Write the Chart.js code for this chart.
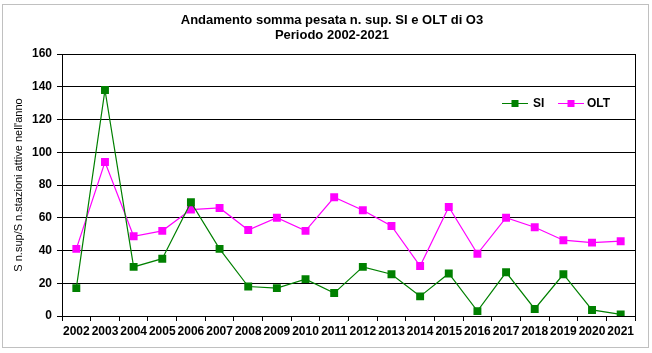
<!DOCTYPE html>
<html>
<head>
<meta charset="utf-8">
<script src="https://cdn.jsdelivr.net/npm/chart.js@4/dist/chart.umd.min.js"></script>
<style>
  html, body { margin: 0; padding: 0; background: #fff; }
  #wrap { width: 652px; height: 353px; position: relative; }
</style>
</head>
<body>
<div id="wrap"><canvas id="chart"></canvas></div>
<script>
const years = ["2002","2003","2004","2005","2006","2007","2008","2009","2010","2011",
               "2012","2013","2014","2015","2016","2017","2018","2019","2020","2021"];
const si  = [17, 138, 30, 35, 69.5, 41, 18, 17, 22.5, 14, 30, 25.5, 12, 26, 3, 26.7, 4.3, 25.5, 3.7, 1];
const olt = [41, 94, 48.7, 52, 65, 66, 52.5, 60, 52, 72.5, 64.6, 55, 30.5, 66.6, 38, 60, 54.2, 46.3, 44.8, 45.7];
const yTicks = [0, 20, 40, 60, 80, 100, 120, 140, 160];

const titleLines = ["Andamento somma pesata n. sup. SI e OLT di O3", "Periodo 2002-2021"];

// frame, title, right border of the plot and legend
const decor = {
  id: "decor",
  beforeDraw(chart) {
    const ctx = chart.ctx;
    ctx.save();
    ctx.strokeStyle = "#c0c0c0";
    ctx.lineWidth = 1;
    ctx.strokeRect(2.5, 4.5, 646, 343);
    ctx.fillStyle = "#000";
    ctx.font = "bold 13px 'Liberation Sans', Arial, sans-serif";
    ctx.textAlign = "center";
    ctx.textBaseline = "alphabetic";
    ctx.fillText(titleLines[0], 332, 23.5);
    ctx.fillText(titleLines[1], 332, 38.5);
    ctx.restore();
  },
  afterDatasetsDraw(chart) {
    const ctx = chart.ctx;
    const a = chart.chartArea;
    ctx.save();
    ctx.strokeStyle = "#000";
    ctx.lineWidth = 1;
    ctx.beginPath();
    ctx.moveTo(Math.round(a.right) + 0.5, a.top);
    ctx.lineTo(Math.round(a.right) + 0.5, a.bottom);
    ctx.stroke();

    // legend
    const items = [{x: 502, tx: 533}, {x: 558, tx: 587}];
    const y = 103.5;
    ctx.font = "bold 12px 'Liberation Sans', Arial, sans-serif";
    ctx.textBaseline = "middle";
    ctx.textAlign = "left";
    chart.data.datasets.forEach((ds, i) => {
      const it = items[i];
      ctx.strokeStyle = ds.borderColor;
      ctx.lineWidth = 1;
      ctx.beginPath();
      ctx.moveTo(it.x, y);
      ctx.lineTo(it.x + 26, y);
      ctx.stroke();
      ctx.fillStyle = ds.backgroundColor;
      ctx.fillRect(it.x + 13 - 3.5, y - 3.5, 7, 7);
      ctx.fillStyle = "#000";
      ctx.fillText(ds.label, it.tx, y + 0.5);
    });
    ctx.restore();
  }
};

new Chart(document.getElementById("chart"), {
  type: "line",
  data: {
    labels: years,
    datasets: [
      {
        label: "SI",
        data: si,
        borderColor: "#008000",
        backgroundColor: "#008000",
        borderWidth: 1.2,
        pointStyle: "rect",
        pointRadius: 5.6,
        pointBorderWidth: 0,
        tension: 0
      },
      {
        label: "OLT",
        data: olt,
        borderColor: "#ff00ff",
        backgroundColor: "#ff00ff",
        borderWidth: 1.2,
        pointStyle: "rect",
        pointRadius: 5.6,
        pointBorderWidth: 0,
        tension: 0
      }
    ]
  },
  options: {
    responsive: true,
    maintainAspectRatio: false,
    animation: false,
    layout: { padding: { top: 54, left: 0, right: 17, bottom: 0 } },
    plugins: {
      legend: { display: false },
      title: { display: false },
      tooltip: { enabled: false }
    },
    scales: {
      x: {
        offset: true,
        grid: { offset: true, drawOnChartArea: false, color: "#000", tickLength: 5 },
        border: { color: "#000", width: 1 },
        ticks: {
          autoSkip: false,
          maxRotation: 0,
          padding: 3,
          color: "#000",
          font: { family: "'Liberation Sans', Arial, sans-serif", size: 12, weight: "bold" }
        },
        afterFit(scale) { scale.height = 37; }
      },
      y: {
        min: 0,
        max: 160,
        afterBuildTicks(scale) { scale.ticks = yTicks.map(v => ({ value: v })); },
        grid: { color: "#000", tickLength: 5 },
        border: { color: "#000", width: 1 },
        ticks: {
          padding: 5,
          color: "#000",
          font: { family: "'Liberation Sans', Arial, sans-serif", size: 12, weight: "bold" }
        },
        title: {
          display: true,
          text: "S n.sup/S n.stazioni attive nell'anno",
          color: "#000",
          padding: { top: 12, bottom: 0 },
          font: { family: "'Liberation Sans', Arial, sans-serif", size: 11 }
        },
        afterFit(scale) { scale.width = 62; }
      }
    }
  },
  plugins: [decor]
});
</script>
</body>
</html>
